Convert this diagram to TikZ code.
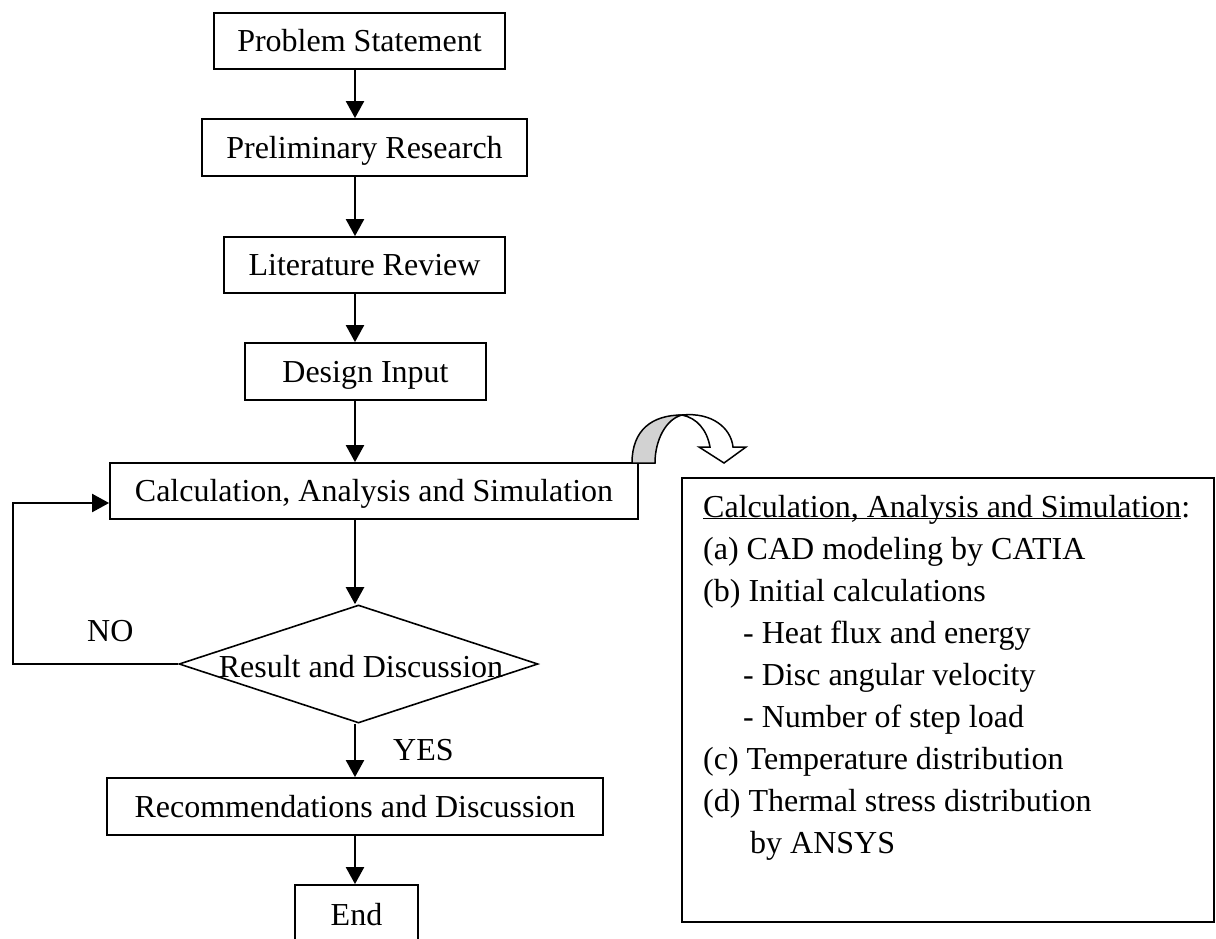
\documentclass[tikz,border=0pt]{standalone}
\usepackage{fontspec}
\setmainfont{Liberation Serif}
\usetikzlibrary{shapes.geometric,arrows.meta}
\begin{document}
\begin{tikzpicture}[x=1pt,y=-1pt,
  every node/.style={font=\fontsize{32}{42}\selectfont},
  box/.style={draw, line width=1.8pt, rectangle, inner sep=0pt, text height=21pt, text depth=0pt},
  decision/.style={draw, line width=1.6pt, diamond, inner sep=0pt},
  arr/.style={line width=2.2pt, -{Triangle[width=18pt,length=17pt]}},
  ln/.style={anchor=base west, inner sep=0pt},
  curvearrow/.style={line width=1.5pt, line join=miter}]
\useasboundingbox (0,0) rectangle (1216,938);
\coordinate (ax) at (355,0);
% main flow
\node[box, minimum width=291pt, minimum height=56pt] (ps) at (359.5,41) {Problem Statement};
\node[box, minimum width=325pt, minimum height=57pt] (pr) at (364.5,147.5) {Preliminary Research};
\node[box, minimum width=281pt, minimum height=56pt] (lr) at (364.5,265) {Literature Review};
\node[box, minimum width=241pt, minimum height=57pt] (di) at (365.5,371.5) {Design Input};
\node[box, minimum width=528pt, minimum height=56pt] (calc) at (374,491) {Calculation, Analysis and Simulation};
\node[decision, minimum width=359pt, minimum height=118pt] (dia) at (358.5,664) {};
\node[anchor=base, inner sep=0pt] (diat) at (361,677) {Result and Discussion};
\node[box, minimum width=496pt, minimum height=57pt] (rec) at (355,806.5) {Recommendations and Discussion};
\node[box, minimum width=123pt, minimum height=60pt] (end) at (356.5,915) {End};
% connectors
\draw[arr] (ps.south -| ax) -- (pr.north -| ax);
\draw[arr] (pr.south -| ax) -- (lr.north -| ax);
\draw[arr] (lr.south -| ax) -- (di.north -| ax);
\draw[arr] (di.south -| ax) -- (calc.north -| ax);
\draw[arr] (calc.south -| ax) -- (dia.north -| ax);
\draw[arr] (dia.south -| ax) -- (rec.north -| ax);
\draw[arr] (rec.south -| ax) -- (end.north -| ax);
\coordinate (fb) at (13,503);
\draw[arr] (dia.west) -| (fb) -- (fb -| calc.west);
\node[ln] (no) at (87,641) {NO};
\node[ln] (yes) at (393,760) {YES};
% curved block arrow
\filldraw[curvearrow, fill=gray!35] (632,463) .. controls (632,430) and (652,415) .. (682,415)
   .. controls (666,419) and (655,440) .. (655,463) -- cycle;
\filldraw[curvearrow, fill=white] (682,415) .. controls (712,412) and (731,428) .. (733,447)
   -- (746,447) -- (724,463) -- (699,447) -- (710,447)
   .. controls (707,430) and (697,418) .. (682,415) -- cycle;
% detail box
\node[draw, line width=1.8pt, rectangle, inner sep=0pt, minimum width=532pt, minimum height=444pt] (detail) at (948,700) {};
\node[ln] (h0) at (703,517) {\underline{\smash{Calculation, Analysis and Simulation}}:};
\node[ln] (h1) at (703,559) {(a) CAD modeling by CATIA};
\node[ln] (h2) at (703,601) {(b) Initial calculations};
\node[ln] (h3) at (743,643) {- Heat flux and energy};
\node[ln] (h4) at (743,685) {- Disc angular velocity};
\node[ln] (h5) at (743,727) {- Number of step load};
\node[ln] (h6) at (703,769) {(c) Temperature distribution};
\node[ln] (h7) at (703,811) {(d) Thermal stress distribution};
\node[ln] (h8) at (750,853) {by ANSYS};
\end{tikzpicture}
\end{document}
